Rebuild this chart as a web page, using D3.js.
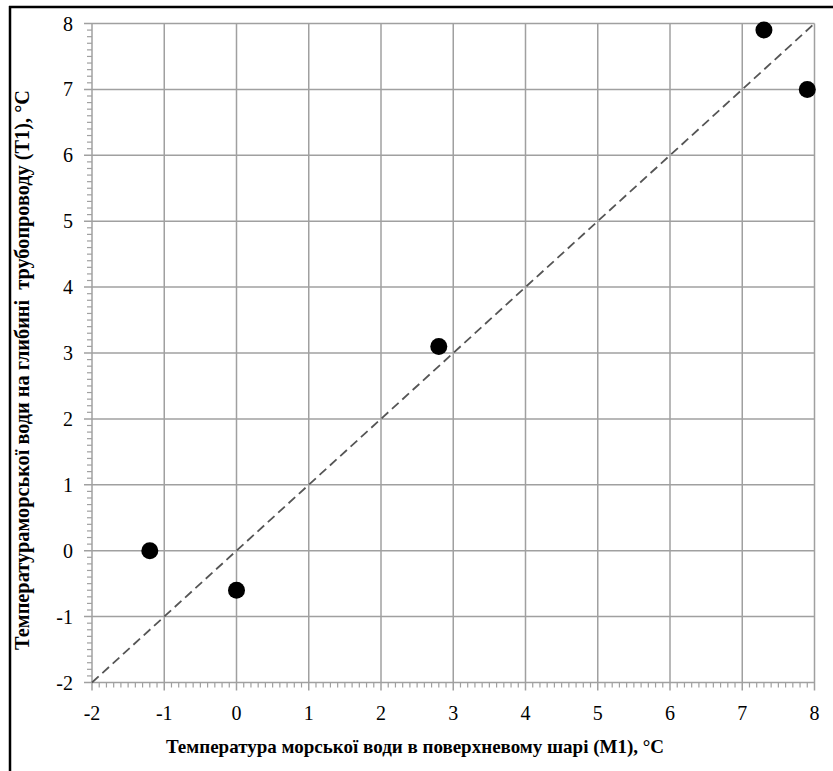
<!DOCTYPE html>
<html><head><meta charset="utf-8">
<script src="https://cdn.jsdelivr.net/npm/d3@7"></script>
<style>body{margin:0;background:#fff}svg{display:block}text{font-family:"Liberation Serif","Times New Roman","DejaVu Serif",serif}</style>
</head><body>
<svg id="c" width="833" height="771"></svg>
<script>
const xPoints = [-1.2, 0, 2.8, 7.3, 7.9];
const yPoints = [0, -0.6, 3.1, 7.9, 7.0];
const lineX = [-2, 8];
const lineY = [-2, 8];
const xTicks = [-2, -1, 0, 1, 2, 3, 4, 5, 6, 7, 8];
const yTicks = [-2, -1, 0, 1, 2, 3, 4, 5, 6, 7, 8];
const xTitle = "Температура морської води в поверхневому шарі (М1), °C";
const yTitle = "Температураморської води на глибині  трубопроводу (Т1), °C";

const svg = d3.select("#c");
const L = 92, R = 814.5, T = 23.5, B = 682.5;
const x = d3.scaleLinear().domain([-2, 8]).range([L, R]);
const y = d3.scaleLinear().domain([-2, 8]).range([B, T]);
const grid = "#a0a0a0";

// frame (left and top edges visible)
svg.append("line").attr("x1", 10).attr("x2", 10).attr("y1", 6).attr("y2", 771)
  .attr("stroke", "#000").attr("stroke-width", 2.5);
svg.append("line").attr("x1", 9).attr("x2", 833).attr("y1", 7).attr("y2", 7)
  .attr("stroke", "#000").attr("stroke-width", 2.5);

// grid
const g = svg.append("g");
g.selectAll(".vg").data(xTicks).join("line")
  .attr("x1", d => x(d)).attr("x2", d => x(d)).attr("y1", T).attr("y2", B + 8)
  .attr("stroke", grid).attr("stroke-width", 1.5);
g.selectAll(".hg").data(yTicks).join("line")
  .attr("x1", L - 8).attr("x2", R).attr("y1", d => y(d)).attr("y2", d => y(d))
  .attr("stroke", grid).attr("stroke-width", 1.5);

// minor ticks
const minorX = d3.range(-20, 81).map(i => i / 10).filter(v => Math.abs(v - Math.round(v)) > 1e-6);
const minorY = minorX;
g.selectAll(".mx").data(minorX).join("line")
  .attr("x1", d => x(d)).attr("x2", d => x(d)).attr("y1", B).attr("y2", B + 5)
  .attr("stroke", grid).attr("stroke-width", 1.2);
g.selectAll(".my").data(minorY).join("line")
  .attr("x1", L - 5).attr("x2", L).attr("y1", d => y(d)).attr("y2", d => y(d))
  .attr("stroke", grid).attr("stroke-width", 1.2);

// tick labels
svg.append("g").selectAll("text").data(xTicks).join("text")
  .attr("x", d => x(d)).attr("y", 720).attr("text-anchor", "middle")
  .attr("font-size", 20).attr("fill", "#000")
  .text(d => d);
svg.append("g").selectAll("text").data(yTicks).join("text")
  .attr("x", 73).attr("y", d => y(d) + 7).attr("text-anchor", "end")
  .attr("font-size", 20).attr("fill", "#000")
  .text(d => d);

// dashed line
svg.append("line")
  .attr("x1", x(lineX[0])).attr("y1", y(lineY[0])).attr("x2", x(lineX[1])).attr("y2", y(lineY[1]))
  .attr("stroke", "#555").attr("stroke-width", 1.8).attr("stroke-dasharray", "9,5");

// points
svg.append("g").selectAll("circle").data(xPoints.map((v, i) => [v, yPoints[i]])).join("circle")
  .attr("cx", d => x(d[0])).attr("cy", d => y(d[1])).attr("r", 8.5).attr("fill", "#000");

// titles
svg.append("text").attr("x", 415).attr("y", 753).attr("text-anchor", "middle")
  .attr("font-weight", "bold").attr("font-size", 19)
  .attr("fill", "#000").attr("xml:space", "preserve").text(xTitle);
svg.append("text").attr("transform", "translate(29,370) rotate(-90)").attr("text-anchor", "middle")
  .attr("font-weight", "bold").attr("font-size", 20.3)
  .attr("fill", "#000").attr("xml:space", "preserve").text(yTitle);
</script>
</body></html>
